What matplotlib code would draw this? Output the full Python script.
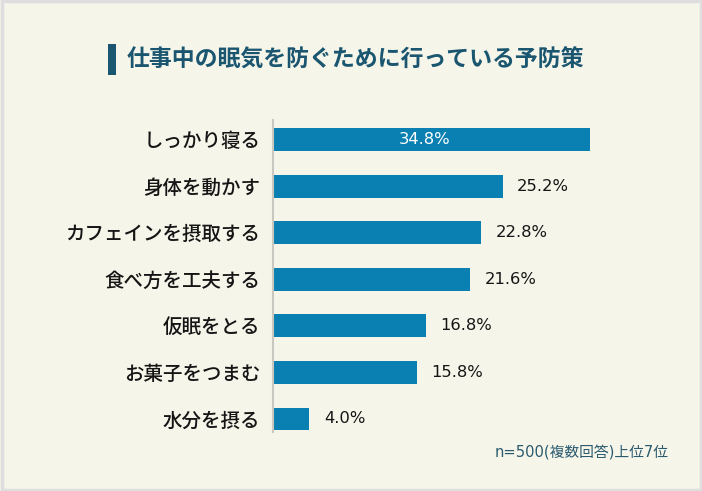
import matplotlib
matplotlib.use('Agg')
import matplotlib.pyplot as plt
from matplotlib.patches import Rectangle

plt.rcParams['font.family'] = ['Noto Sans CJK JP', 'DejaVu Sans']

title = '仕事中の眠気を防ぐために行っている予防策'
categories = ['しっかり寝る', '身体を動かす', 'カフェインを摂取する', '食べ方を工夫する',
              '仮眠をとる', 'お菓子をつまむ', '水分を摂る']
values = [34.8, 25.2, 22.8, 21.6, 16.8, 15.8, 4.0]
note = 'n=500(複数回答)上位7位'

bg = '#f6f5ea'
bar_color = '#0a80b2'
title_color = '#1b5670'
num_font = ['DejaVu Sans', 'Noto Sans CJK JP']

fig = plt.figure(figsize=(7.02, 4.91), dpi=100, facecolor=bg)
# thin grey border round the panel
fig.patches.append(Rectangle((1.5 / 702, 1 / 491), 699 / 702, 489 / 491,
                             transform=fig.transFigure, facecolor='none',
                             edgecolor='#dedede', linewidth=2.5))

# title with marker bar
fig.patches.append(Rectangle((108 / 702, 1 - 75 / 491), 8 / 702, 31 / 491,
                             transform=fig.transFigure, facecolor=title_color,
                             edgecolor='none'))
fig.text(127 / 702, 1 - 60 / 491, title, fontsize=16.5, fontweight='bold',
         color=title_color, va='center', ha='left')

ax = fig.add_axes([273 / 702, 59 / 491, 364.4 / 702, 312 / 491])
ax.set_zorder(3)
ax.set_facecolor('none')
pos = list(range(len(categories)))
ax.barh(pos, values, height=0.49, color=bar_color)
ax.set_xlim(0, 40)
ax.set_ylim(6.28, -0.42)

for i, v in enumerate(values):
    if i == 0:
        ax.text(v / 2 - 0.8, i, f'{v:.1f}%', color='white', fontsize=11.8,
                family=num_font, ha='center', va='center')
    else:
        ax.text(v + 1.6, i, f'{v:.1f}%', color='#151515', fontsize=11.8,
                family=num_font, ha='left', va='center')

ax.set_yticks(pos)
ax.set_yticklabels(categories, fontsize=14, fontweight='medium', color='#151515')
ax.tick_params(axis='y', length=0, pad=9)
ax.set_xticks([])
for s in ['top', 'right', 'bottom']:
    ax.spines[s].set_visible(False)
ax.spines['left'].set_color('#c8c8c0')
ax.spines['left'].set_linewidth(1.5)

fig.text(495 / 702, 1 - 452 / 491, note, fontsize=10.6, color='#2a5a6e',
         family=num_font, ha='left', va='center')

fig.savefig('out.png', dpi=100, facecolor=fig.get_facecolor())
